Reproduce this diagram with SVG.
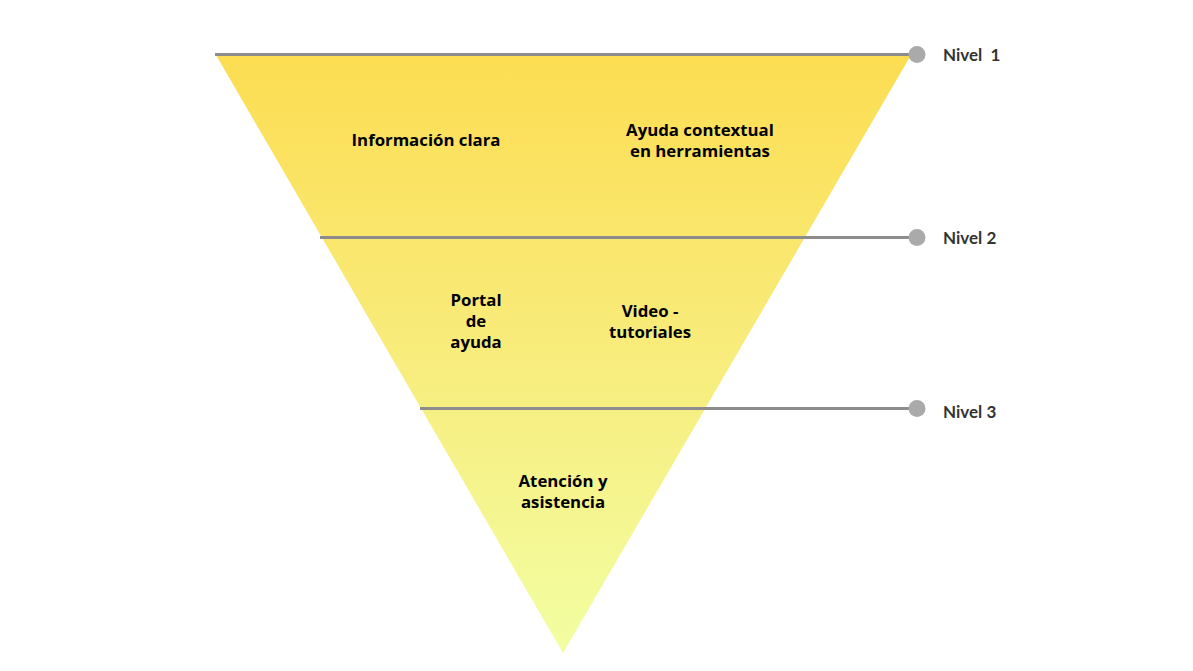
<svg xmlns="http://www.w3.org/2000/svg" width="1193" height="671" viewBox="0 0 1193 671">
<style>
.lbl{font-family:"Open Sans","Noto Sans",sans-serif;font-weight:bold;font-size:16.8px;fill:#000;text-anchor:middle}
.niv{font-family:"Lato","Open Sans",sans-serif;font-weight:bold;font-size:17px;fill:#333}
.ln{stroke:#8c8c8c;stroke-width:3}
.dot{fill:#aaaaaa}
</style>
<defs>
<linearGradient id="g" x1="0" y1="55" x2="0" y2="653" gradientUnits="userSpaceOnUse">
<stop offset="0" stop-color="#fcdd52"/>
<stop offset="0.5" stop-color="#f8ec7c"/>
<stop offset="1" stop-color="#f2fea2"/>
</linearGradient>
</defs>
<rect width="1193" height="671" fill="#fff"/>
<g id="funnel"><polygon points="216,55 911,55 563,653" fill="url(#g)"/></g>
<g id="connectors">
<line class="ln" x1="215" y1="54.500" x2="917" y2="54.500"/>
<line class="ln" x1="320" y1="237.500" x2="917" y2="237.500"/>
<line class="ln" x1="420" y1="408.500" x2="917" y2="408.500"/>
<circle class="dot" cx="917" cy="54.500" r="8.500"/>
<circle class="dot" cx="917" cy="237.500" r="8.500"/>
<circle class="dot" cx="917" cy="408.500" r="8.500"/>
</g>
<g id="nivel1"><text class="niv" x="943" y="61" xml:space="preserve">Nivel  1</text></g>
<g id="nivel2"><text class="niv" x="943" y="244">Nivel 2</text></g>
<g id="nivel3"><text class="niv" x="943" y="418">Nivel 3</text></g>
<g id="info"><text class="lbl" x="426" y="146">Información clara</text></g>
<g id="ayuda"><text class="lbl" x="700" y="136">Ayuda contextual</text><text class="lbl" x="700" y="157">en herramientas</text></g>
<g id="portal"><text class="lbl" x="476" y="306">Portal</text><text class="lbl" x="476" y="327">de</text><text class="lbl" x="476" y="348">ayuda</text></g>
<g id="video"><text class="lbl" x="650" y="317">Video -</text><text class="lbl" x="650" y="338">tutoriales</text></g>
<g id="atencion"><text class="lbl" x="563" y="487">Atención y</text><text class="lbl" x="563" y="508">asistencia</text></g>
</svg>
